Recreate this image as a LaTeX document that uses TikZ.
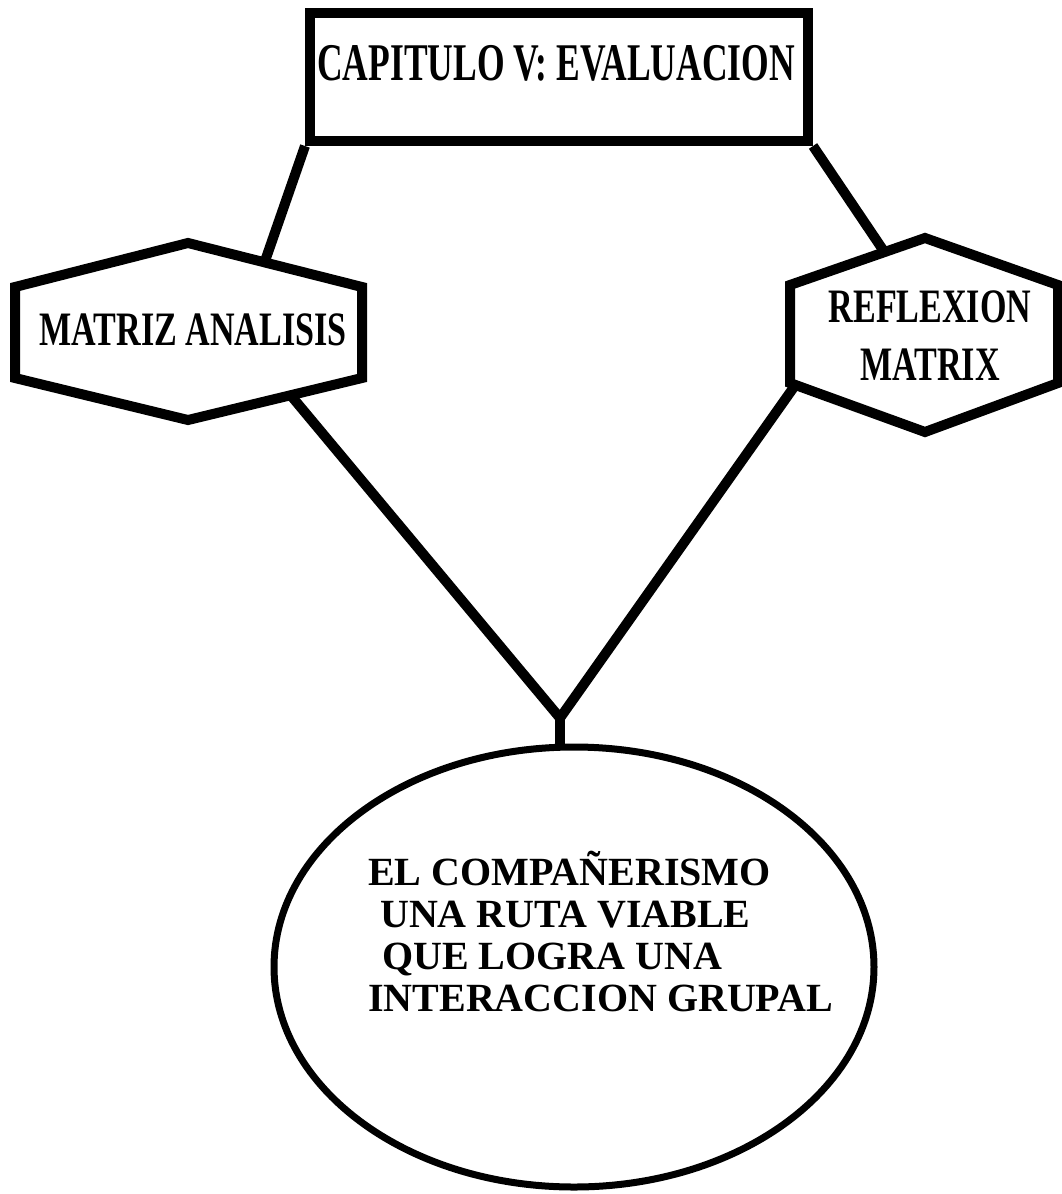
\documentclass[tikz,border=0pt]{standalone}
\usepackage{fontspec}
\setmainfont{Liberation Serif}
\newfontfamily\estrecha{Liberation Serif}[FakeStretch=0.71]
\newfontfamily\titular{Liberation Serif}[FakeStretch=0.67]
\usetikzlibrary{shapes,calc}

\begin{document}
\begin{tikzpicture}[x=1pt,y=-1pt,
		borde/.style={line width=10pt, line join=miter},
		linea/.style={line width=10pt},
		rotulo/.style={font=\estrecha\bfseries\fontsize{48}{58}\selectfont, align=center, inner sep=0pt}]
	\useasboundingbox (0,0) rectangle (1061,1194);
	% capitulo
	\node[draw, borde, minimum width=498pt, minimum height=128pt, inner sep=0pt] (cap) at (559,77) {};
	\node[rotulo, font=\titular\bfseries\fontsize{53}{60}\selectfont] (captxt) at (556,63) {CAPITULO V: EVALUACION};
	% hexagonos
	\coordinate (mt) at (188,243); \coordinate (mr1) at (362,287); \coordinate (mr2) at (362,378);
	\coordinate (mb) at (188,420); \coordinate (ml2) at (15,378); \coordinate (ml1) at (15,287);
	\draw[borde] (ml1) -- (mt) -- (mr1) -- (mr2) -- (mb) -- (ml2) -- cycle;
	\node[rotulo] (matriz) at (193,330) {MATRIZ ANALISIS};
	\coordinate (rt) at (925,238); \coordinate (rr1) at (1058,285); \coordinate (rr2) at (1058,383);
	\coordinate (rb) at (925,432); \coordinate (rl2) at (790,383); \coordinate (rl1) at (790,285);
	\draw[borde] (rl1) -- (rt) -- (rr1) -- (rr2) -- (rb) -- (rl2) -- cycle;
	\node[rotulo] (reflexion) at (930,336) {REFLEXION\\MATRIX};
	% elipse
	\node[draw, ellipse, line width=7pt, minimum width=600pt, minimum height=440pt, inner sep=0pt] (comp) at (574,967) {};
	\node[font=\bfseries\fontsize{40}{42}\selectfont, align=left, inner sep=0pt, anchor=north west] (comptxt) at (368,851) {EL COMPAÑERISMO\\\hspace{12pt}UNA RUTA VIABLE\\\hspace{14pt}QUE LOGRA UNA\\INTERACCION GRUPAL};
	% conectores
	\coordinate (union) at (560,718);
	\draw[linea] (cap.south west) -- ($(mt)!.44!(mr1)$);
	\draw[linea] (cap.south east) -- ($(rl1)!.70!(rt)$);
	\draw[linea] ($(mr2)!.41!(mb)$) -- (union) -- ($(rl2)!.04!(rb)$);
	\draw[linea] (union) -- (union |- comp.north);
\end{tikzpicture}
\end{document}
